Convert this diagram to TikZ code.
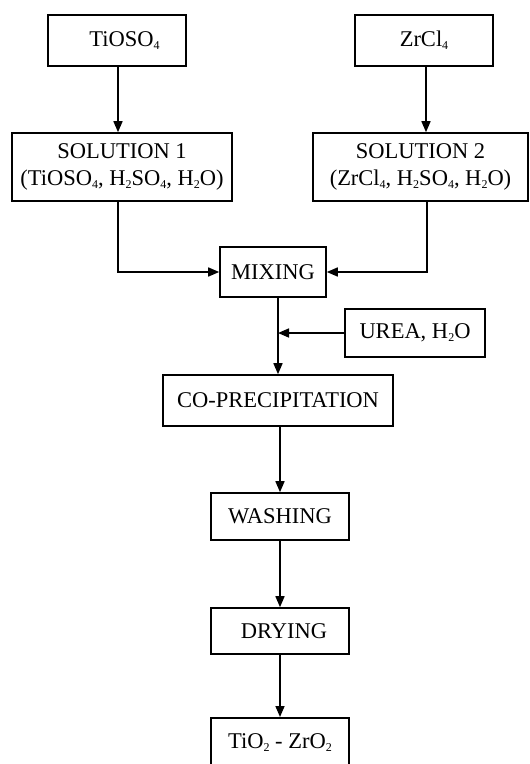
\documentclass[tikz,border=0pt]{standalone}
\usepackage{fontspec}
\setmainfont{Liberation Serif}
\usetikzlibrary{arrows.meta,calc}
\newcommand\chsub[1]{\raisebox{-0.3ex}{\fontsize{12}{12}\selectfont #1}}
\begin{document}
\begin{tikzpicture}[x=1pt,y=-1pt,
  box/.style={draw,line width=1.6pt,inner sep=0pt,align=center,
    font=\fontsize{22.5}{27}\selectfont},
  conn/.style={line width=1.6pt,-{Triangle[width=9pt,length=11pt]}}]
\useasboundingbox (0,0) rectangle (530,764);
\begin{scope}
\clip (0,0) rectangle (530,764);
\node[box,minimum width=138pt,minimum height=51pt] (ti) at (117,40.5) {\hspace*{15pt}TiOSO\chsub{4}};
\node[box,minimum width=138pt,minimum height=51pt] (zr) at (424,40.5) {ZrCl\chsub{4}};
\node[box,minimum width=220pt,minimum height=68pt] (sol1) at (122,167) {SOLUTION 1\\(TiOSO\chsub{4}, H\chsub{2}SO\chsub{4}, H\chsub{2}O)};
\node[box,minimum width=215pt,minimum height=68pt] (sol2) at (420.5,167) {SOLUTION 2\\(ZrCl\chsub{4}, H\chsub{2}SO\chsub{4}, H\chsub{2}O)};
\node[box,minimum width=106pt,minimum height=50pt] (mix) at (273,272) {MIXING};
\node[box,minimum width=140pt,minimum height=48pt] (urea) at (415,333) {UREA, H\chsub{2}O};
\node[box,minimum width=230pt,minimum height=51pt] (co) at (278,400.5) {CO-PRECIPITATION};
\node[box,minimum width=138pt,minimum height=47pt] (wash) at (280,516.5) {WASHING};
\node[box,minimum width=138pt,minimum height=46pt] (dry) at (280,631) {\hspace*{8pt}DRYING};
\node[box,minimum width=138pt,minimum height=56pt,anchor=north] (fin) at (280,717) {\raisebox{10pt}{TiO\chsub{2} - ZrO\chsub{2}}};
\end{scope}
\path (ti.south) ++(1,0) coordinate (tiout);
\path (zr.south) ++(2,0) coordinate (zrout);
\path (zr.south) ++(3,0) coordinate (zrline);
\draw[conn] (tiout) -- (tiout |- sol1.north);
\draw[conn] (zrout) -- (zrout |- sol2.north);
\draw[conn] (tiout |- sol1.south) |- (mix.west);
\draw[conn] (zrline |- sol2.south) |- (mix.east);
\draw[conn] (mix.south -| co.north) -- (co.north);
\draw[conn] (urea.west) -- (urea.west -| co.north);
\draw[conn] (wash.north |- co.south) -- (wash.north);
\draw[conn] (wash.south) -- (dry.north);
\draw[conn] (dry.south) -- (fin.north);
\end{tikzpicture}
\end{document}
